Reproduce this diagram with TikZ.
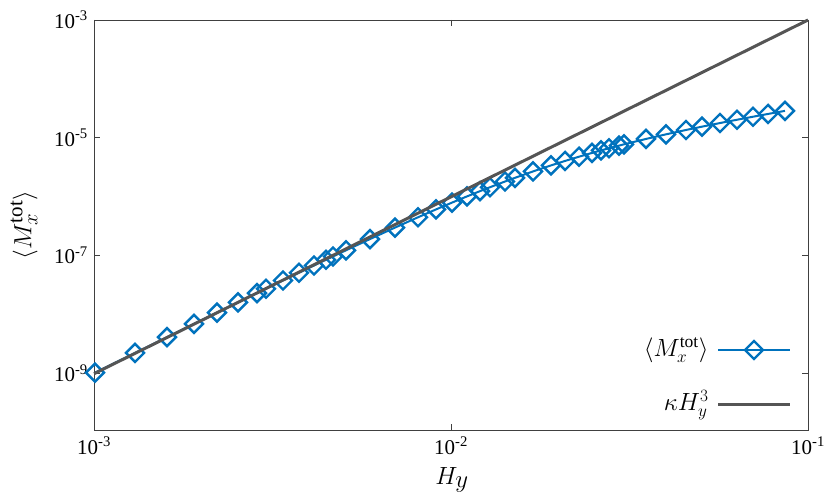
\documentclass[tikz,border=0pt]{standalone}
\usepackage{fontspec}
\setmainfont{Liberation Serif}
\usepackage{amsmath}
\definecolor{dblue}{RGB}{0,114,189}
\definecolor{dgray}{RGB}{85,85,85}
\begin{document}
\begin{tikzpicture}[x=1pt,y=1pt,
  dia/.style={draw=dblue,line width=2.4pt,fill=none,minimum size=19pt,inner sep=0pt,shape=diamond},
  ticklab/.style={font=\fontsize{21}{21}\selectfont,inner sep=1pt}]
\usetikzlibrary{shapes.geometric}
\useasboundingbox (0,0) rectangle (830,500);
% axes frame
\coordinate (bl) at (94,69.5);
\coordinate (tr) at (808,480);
\draw[line width=0.8pt,black!75] (bl) rectangle (tr);
% ticks
\foreach \i/\e in {0/-3,1/-2,2/-1}{
  \pgfmathsetmacro\xx{94+\i*357}
  \draw[line width=0.8pt,black!75] (\xx,69.5) -- ++(0,6) (\xx,480) -- ++(0,-6);
  \node[ticklab,anchor=north] (xl\i) at (\xx,64) {10\textsuperscript{\e}};
}
\foreach \i/\e in {0/-3,1/-5,2/-7,3/-9}{
  \pgfmathsetmacro\yy{480-\i*117.7}
  \draw[line width=0.8pt,black!75] (94,\yy) -- ++(6,0) (808,\yy) -- ++(-6,0);
  \node[ticklab,anchor=east] (yl\i) at (89,\yy) {10\textsuperscript{\e}};
}
\node[font=\fontsize{33}{33}\selectfont] (xlab) at (452,20) {$H_y$};
\node[font=\fontsize{30}{30}\selectfont,rotate=90] (ylab) at (24,275) {$\langle M_x^{\mathrm{tot}}\rangle$};
% data
\def\pts{95,135,167,194,217,238,257,266,283,299,314,326,333,346,370,395,418,436,452,467,480,490,505,515,533,551,565,579,592,601,609,619,624,646,666,686,702,720,737,753,768,785}
\foreach \px [count=\k] in \pts {
  \pgfmathsetmacro\lh{(\px-94)/357-3}
  \pgfmathsetmacro\lm{3*\lh - log10(1+pow(10,2*(\lh+1.73)))}
  \pgfmathsetmacro\yy{480-(-3-\lm)*58.85}
  \coordinate (p\k) at (\px,\yy);
}
\draw[dblue,line width=2pt] (p1) \foreach \k in {2,...,42}{ -- (p\k)};
\foreach \k in {1,...,42}{ \node[dia] (d\k) at (p\k) {}; }
% kappa H^3 line
\draw[dgray,line width=3pt] (94,126.3) -- (808,480);
% legend
\node[font=\fontsize{25}{25}\selectfont,anchor=east] (lg1) at (712,150) {$\langle M_x^{\mathrm{tot}}\rangle$};
\coordinate (l1a) at (718,150); \coordinate (l1b) at (790,150);
\draw[dblue,line width=2pt] (l1a) -- (l1b);
\node[dia] (ld) at (754,150) {};
\node[font=\fontsize{25}{25}\selectfont,anchor=east] (lg2) at (712,95) {$\kappa H_y^3$};
\coordinate (l2a) at (718,95); \coordinate (l2b) at (790,95);
\draw[dgray,line width=3pt] (l2a) -- (l2b);
\end{tikzpicture}
\end{document}
